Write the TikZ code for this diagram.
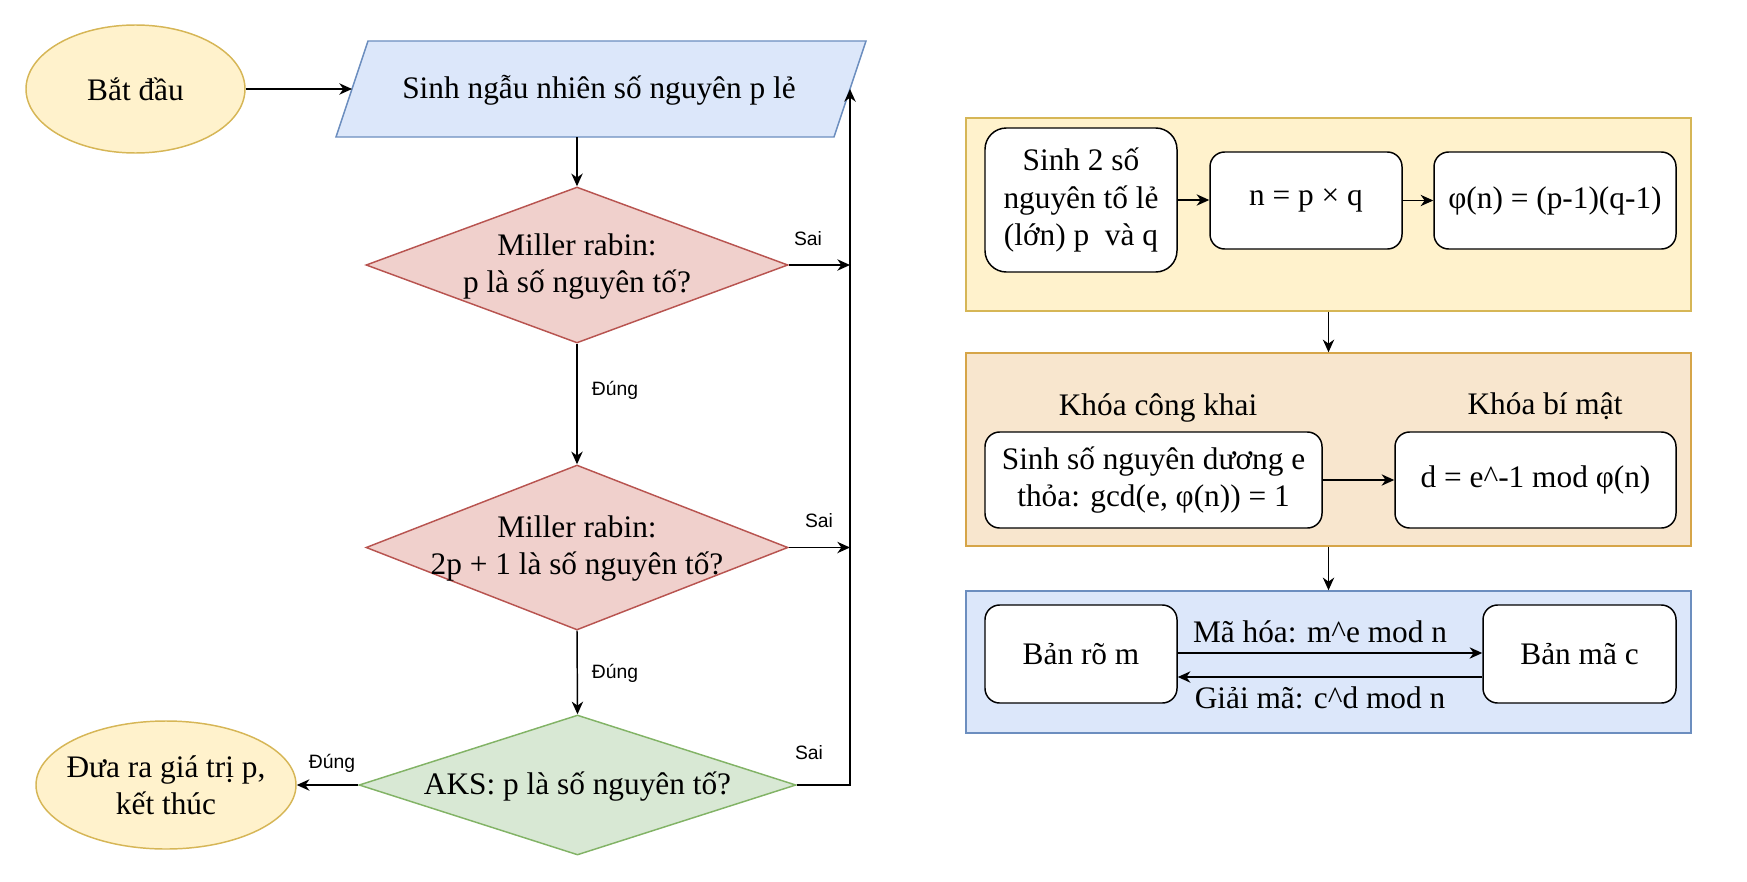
\documentclass[tikz,border=0pt]{standalone}
\usepackage{fontspec}
\setmainfont{Liberation Serif}
\newfontfamily\lblfont{Liberation Sans}
\usetikzlibrary{shapes.geometric,arrows.meta}
\definecolor{yelF}{HTML}{FFF2CC}
\definecolor{yelD}{HTML}{D6B656}
\definecolor{bluF}{HTML}{DCE7FA}
\definecolor{bluD}{HTML}{6C8EBF}
\definecolor{redF}{HTML}{F0D0CC}
\definecolor{redD}{HTML}{B85450}
\definecolor{grnF}{HTML}{D8E8D4}
\definecolor{grnD}{HTML}{82B366}
\definecolor{orgF}{HTML}{F8E6CE}
\definecolor{orgD}{HTML}{D6A548}
\begin{document}
\begin{tikzpicture}[x=0.75pt,y=-0.75pt,
  txt/.style={font=\fontsize{23.5}{28}\selectfont, align=center, inner sep=0pt},
  lbl/.style={font=\lblfont\fontsize{14.5}{17}\selectfont, inner sep=0pt},
  shp/.style={line width=1.1pt, inner sep=0pt},
  ell/.style={shp, ellipse, draw=yelD, fill=yelF},
  dia/.style={shp, diamond},
  rbox/.style={shp, draw=black, fill=white, rounded corners=11pt, font=\fontsize{23.5}{28}\selectfont, align=center},
  cont/.style={shp, rectangle},
  arr/.style={line width=1.1pt, -{Stealth[length=9.5pt,width=8.5pt,inset=3pt]}},
  ln/.style={line width=1.1pt}
]
\useasboundingbox (0,0) rectangle (1747,881);

% ---------- left flowchart ----------
\node[ell, minimum width=164.25pt, minimum height=96pt,
  label={[txt]center:Bắt đầu}] (start) at (135.5,89) {};

\draw[shp, draw=bluD, fill=bluF] (368,41) -- (866,41) -- (834,137) -- (336,137) -- cycle;
\node[txt] (gen) at (599,90) {Sinh ngẫu nhiên số nguyên p lẻ};
\coordinate (genL) at (352,89);
\coordinate (genR) at (850,89);
\coordinate (genB) at (577,137);

\node[dia, draw=redD, fill=redF, minimum width=316.5pt, minimum height=117pt,
  label={[txt, yshift=-1pt]center:Miller rabin:\\p là số nguyên tố?}] (d1) at (577,265) {};
\node[dia, draw=redD, fill=redF, minimum width=316.5pt, minimum height=123.75pt,
  label={[txt, yshift=-1pt]center:Miller rabin:\\2p + 1 là số nguyên tố?}] (d2) at (577,547.5) {};
\node[dia, draw=grnD, fill=grnF, minimum width=327.75pt, minimum height=105pt,
  label={[txt, yshift=-1pt]center:AKS: p là số nguyên tố?}] (d3) at (577.5,785) {};

\node[ell, minimum width=195pt, minimum height=96pt,
  label={[txt]center:Đưa ra giá trị p,\\kết thúc}] (stop) at (166,785) {};

\draw[arr] (start.east) -- (genL);
\draw[arr] (genB) -- (d1.north);
\draw[arr] (d1.south) -- (d2.north);
\draw[arr] (d2.south) -- (d3.north);
\draw[arr] (d3.west) -- (stop.east);
\draw[arr] (d1.east) -- (d1.east -| genR);
\draw[arr] (d2.east) -- (d2.east -| genR);
\draw[arr] (d3.east) -- (d3.east -| genR) -- (genR);

\node[lbl] (sai1) at (808,239) {Sai};
\node[lbl] (dung1) at (615,390) {Đúng};
\node[lbl] (sai2) at (819,521) {Sai};
\node[lbl] (dung2) at (615,673) {Đúng};
\node[lbl] (sai3) at (809,753) {Sai};
\node[lbl] (dung3) at (332,763) {Đúng};

% ---------- right side ----------
\node[cont, draw=yelD, fill=yelF, minimum width=543.75pt, minimum height=144.75pt] (cy) at (1328.5,214.5) {};
\node[cont, draw=orgD, fill=orgF, minimum width=543.75pt, minimum height=144.75pt] (co) at (1328.5,449.5) {};
\node[cont, draw=bluD, fill=bluF, minimum width=543.75pt, minimum height=106.5pt] (cb) at (1328.5,662) {};

\node[rbox, rounded corners=16pt, minimum width=144pt, minimum height=108pt] (bA) at (1081,200) {Sinh 2 số\\nguyên tố lẻ\\(lớn) p~ và q};
\node[rbox, minimum width=144pt, minimum height=72.75pt] (bB) at (1306,200.5) {n = p × q};
\node[rbox, minimum width=181.5pt, minimum height=72.75pt] (bC) at (1555,200.5) {φ(n) = (p-1)(q-1)};

\node[txt] (pub) at (1158,408) {Khóa công khai};
\node[txt] (priv) at (1545,406) {Khóa bí mật};
\node[rbox, minimum width=252.75pt, minimum height=72pt] (bD) at (1153.5,480) {Sinh số nguyên dương e\\thỏa: gcd(e, φ(n)) = 1};
\node[rbox, minimum width=210.75pt, minimum height=72pt] (bE) at (1535.5,480) {d = e\textasciicircum-1 mod φ(n)};

\node[rbox, minimum width=144pt, minimum height=73.5pt] (bF) at (1081,654) {Bản rõ m};
\node[rbox, minimum width=144.75pt, minimum height=73.5pt] (bG) at (1579.5,654) {Bản mã c};
\node[txt] (enc) at (1320,632) {Mã hóa: m\textasciicircum e mod n};
\node[txt] (dec) at (1320,698) {Giải mã: c\textasciicircum d mod n};

\draw[arr] (bA.east) -- (bA.east -| bB.west);
\draw[arr] (bB.east) -- (bB.east -| bC.west);
\draw[arr] (bD.east) -- (bD.east -| bE.west);
\draw[arr] ([yshift=0.75pt]bF.east) -- ([yshift=0.75pt]bG.west);
\draw[arr] ([yshift=-17.25pt]bG.west) -- ([yshift=-17.25pt]bF.east);
\draw[arr] (cy.south) -- (co.north);
\draw[arr] (co.south) -- (cb.north);
\end{tikzpicture}
\end{document}
